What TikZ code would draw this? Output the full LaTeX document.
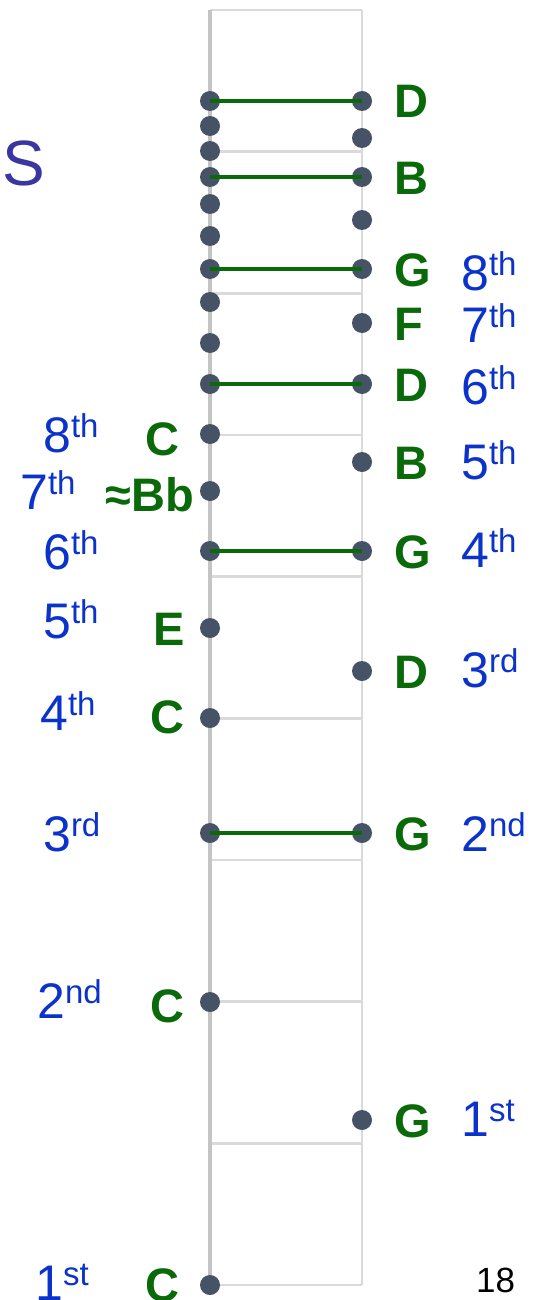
\documentclass[tikz,border=0pt]{standalone}
\usepackage{fontspec}
\setmainfont{Liberation Sans}
\definecolor{dotgray}{HTML}{465366}
\definecolor{notegreen}{HTML}{0A6A0A}
\definecolor{ordblue}{HTML}{0B33CC}
\definecolor{sblue}{HTML}{3A36A0}
\definecolor{leftgray}{HTML}{C4C4C4}
\definecolor{fretgray}{HTML}{DADADA}
\newcommand\ordnum[2]{#1\raisebox{15pt}{\fontsize{33}{33}\selectfont #2}}

\begin{document}
\begin{tikzpicture}[x=1pt,y=-1pt,
  dot/.style={circle,fill=dotgray,inner sep=0pt,minimum size=20pt},
  note/.style={text=notegreen,font=\fontsize{47}{47}\selectfont\bfseries,inner sep=0pt},
  ord/.style={text=ordblue,font=\fontsize{50}{50}\selectfont,inner sep=0pt},
  string/.style={notegreen,line width=3.8pt},
  fret/.style={fretgray,line width=2.5pt}]
  \useasboundingbox (0,0) rectangle (543,1300);
  % frame and frets
  \draw[fret] (210,10) -- (362,10);
  \foreach \k in {1,...,9}
    \draw[fret] (210,{10+\k*141.67}) -- (362,{10+\k*141.67});
  \draw[fret] (362,10) -- (362,1285);
  \draw[leftgray,line width=3.5pt] (210,10) -- (210,1290);
  % dots
  \foreach \y [count=\i] in {101,126,151,177,204,236,269,302,343,384,434,491,551,628,718,833,1002,1285}
    \node[dot] (l\i) at (210,\y) {};
  \foreach \y [count=\i] in {101,138,177,220,269,323,384,462,551,671,833,1120}
    \node[dot] (r\i) at (362,\y) {};
  % strings
  \foreach \a/\b in {1/1,4/3,7/5,10/7,13/9,16/11}
    \draw[string] (l\a.center) -- (r\b.center);
  % note names
  \foreach \i/\t in {1/D,3/B,5/G,6/F,7/D,8/B,9/G,10/D,11/G,12/G}
    \node[note,anchor=base west] (nr\i) at ([xshift=32pt,yshift=-17pt]r\i) {\t};
  \foreach \x/\y/\t [count=\i] in {180/455/C,194/511/≈Bb,185/645/E,185/733/C,185/1022/C,180/1301/C}
    \node[note,anchor=base east] (nl\i) at (\x,\y) {\t};
  % ordinals
  \foreach \y/\n/\s in {290/8/th,342/7/th,404/6/th,479/5/th,567/4/th,687/3/rd,851/2/nd,1136/1/st}
    \node[ord,anchor=base west] (or\n) at (461,\y) {\ordnum{\n}{\s}};
  \foreach \x/\y/\n/\s in {43/452/8/th,20/509/7/th,43/569/6/th,43/638/5/th,40/730/4/th,43/851/3/rd,37/1018/2/nd,35/1300/1/st}
    \node[ord,anchor=base west] (ol\n) at (\x,\y) {\ordnum{\n}{\s}};
  % side marks
  \node[text=sblue,font=\fontsize{64}{64}\selectfont] (slabel) at (24,163) {S};
  \node[font=\fontsize{35}{35}\selectfont,anchor=base west,inner sep=0pt] (pagenum) at (476,1292) {18};
\end{tikzpicture}
\end{document}
